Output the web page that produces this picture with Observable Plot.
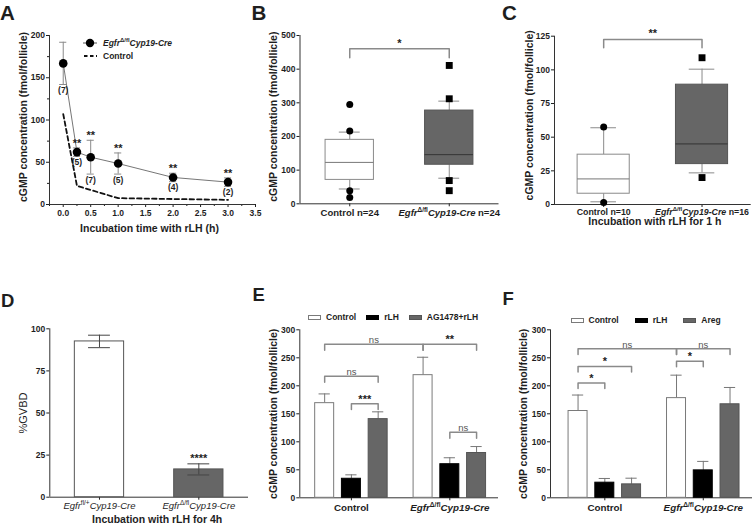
<!DOCTYPE html>
<html>
<head>
<meta charset="utf-8">
<script src="https://cdn.jsdelivr.net/npm/d3@7"></script>
<script src="https://cdn.jsdelivr.net/npm/@observablehq/plot@0.6"></script>
<style>
html,body{margin:0;padding:0;background:#fff;}
#fig{position:relative;width:752px;height:524px;overflow:hidden;background:#fff;font-family:"Liberation Sans",Arial,sans-serif;color:#1e1e1e;}
.panel{position:absolute;}
.panel svg{display:block;overflow:visible;}
.legend{position:absolute;font-weight:bold;font-size:8.5px;display:flex;align-items:center;white-space:nowrap;line-height:10px;}
.sw{display:inline-block;width:13px;height:5px;box-sizing:border-box;margin-right:5px;}
.legend sup{font-size:0.7em;line-height:0;}
.letter{position:absolute;font-weight:bold;line-height:1;}
</style>
</head>
<body>
<div id="fig"></div>
<script>
// ===================== DATA =====================
// Panel A
const aTime = [0, 0.25, 0.5, 1, 2, 3];
const aKoMean = [167, 62, 56, 48.5, 32, 26.5];
const aKoErr = [25, 5, 20, 12.5, 5, 5];
const aKoN = ["(7)", "(5)", "(7)", "(5)", "(4)", "(2)"];
const aKoSig = ["", "**", "**", "**", "**", "**"];
const aCtrlTime = [0, 0.25, 1, 2, 3];
const aCtrlMean = [107, 22, 7.5, 6.5, 5.5];
const aXTicks = [0, 0.5, 1, 1.5, 2, 2.5, 3, 3.5];
const aXMinor = [-0.25, 0.25, 0.75, 1.25, 1.75, 2.25, 2.75, 3.25];
const aYTicks = [0, 50, 100, 150, 200];
const aYMinor = [25, 75, 125, 175];
const aLegend = ["_Egfr_^Δ/fl^_Cyp19-Cre_", "Control"];
const aXTitle = "Incubation time with rLH (h)";
const cgmpTitle = "cGMP concentration (fmol/follicle)";

// Panel B
const bGroups = ["Control n=24", "_Egfr_^Δ/fl^_Cyp19-Cre_ n=24"];
const bLow = [44, 76];
const bQ1 = [71, 116];
const bMedian = [123, 146];
const bQ3 = [190, 277];
const bHigh = [213, 305];
const bOutliers = [[295, 216, 39, 19], [411, 312, 69, 39]];
const bSig = {label: "*", y: 461};
const bYTicks = [0, 100, 200, 300, 400, 500];

// Panel C
const cGroups = ["Control n=10", "_Egfr_^Δ/fl^_Cyp19-Cre_ n=16"];
const cLow = [2, 23.5];
const cQ1 = [8, 30];
const cMedian = [19, 45];
const cQ3 = [37, 89];
const cHigh = [57, 100.5];
const cOutliers = [[57.5, 1.5], [109, 20]];
const cSig = {label: "**", y: 122.5};
const cYTicks = [0, 25, 50, 75, 100, 125];
const cXTitle = "Incubation with rLH for 1 h";

// Panel D
const dGroups = ["_Egfr_^fl/+^_Cyp19-Cre_", "_Egfr_^Δ/fl^_Cyp19-Cre_"];
const dMean = [92.5, 16.5];
const dErr = [3.7, 3.3];
const dSig = ["", "****"];
const dYTicks = [0, 25, 50, 75, 100];
const dXTitle = "Incubation with rLH for 4h";
const dYTitle = "%GVBD";

// Panel E
const eGroups = ["Control", "_Egfr_^Δ/fl^_Cyp19-Cre_"];
const eTreat = ["Control", "rLH", "AG1478+rLH"];
const eMean = [[169, 34, 140.5], [219, 60, 80]];
const eErr = [[16.5, 7, 13], [32, 11.5, 11.5]];
const eBrackets = [
  {from: [0, 0], to: [1, 0], y: 274, label: "ns"},
  {from: [1, 0], to: [1, 2], y: 274, label: "**"},
  {from: [0, 0], to: [0, 2], y: 217, label: "ns"},
  {from: [0, 1], to: [0, 2], y: 168, label: "***"},
  {from: [1, 1], to: [1, 2], y: 117, label: "ns"}
];
const eYTicks = [0, 50, 100, 150, 200, 250, 300];

// Panel F
const fGroups = ["Control", "_Egfr_^Δ/fl^_Cyp19-Cre_"];
const fTreat = ["Control", "rLH", "Areg"];
const fMean = [[155, 27, 24], [178, 49, 167]];
const fErr = [[28.5, 7.5, 11], [41, 16, 30]];
const fBrackets = [
  {from: [0, 0], to: [1, 0], y: 266, label: "ns"},
  {from: [1, 0], to: [1, 2], y: 266, label: "ns"},
  {from: [0, 0], to: [0, 2], y: 234.5, label: "*"},
  {from: [0, 0], to: [0, 1], y: 205, label: "*"},
  {from: [1, 0], to: [1, 1], y: 244, label: "*"}
];
const fYTicks = [0, 50, 100, 150, 200, 250, 300];

// ===================== HELPERS =====================
const FONT = '"Liberation Sans", Arial, Helvetica, sans-serif';
const fig = document.getElementById("fig");
const baseStyle = {fontFamily: FONT, fontSize: "8.5px", fontWeight: "bold", background: "transparent", overflow: "visible", color: "#1e1e1e"};
const GRAY = "#8a8a8a";
const TFILL = ["#fff", "#000", "#666"];
const TSTROKE = ["#7a7a7a", "#000", "#555"];

function parseRich(s) {
  const segs = []; let it = false, sup = false, buf = "";
  for (const ch of s) {
    if (ch === "_" || ch === "^") {
      if (buf) segs.push({text: buf, it, sup});
      buf = "";
      if (ch === "_") it = !it; else sup = !sup;
    } else buf += ch;
  }
  if (buf) segs.push({text: buf, it, sup});
  return segs;
}
function richSvg(svg) {
  svg.querySelectorAll("text").forEach(t => {
    const s = t.textContent;
    if (!/[_^]/.test(s)) return;
    const segs = parseRich(s);
    while (t.firstChild) t.removeChild(t.firstChild);
    const fs = parseFloat(getComputedStyle(t).fontSize) || 9;
    const shift = fs * 0.38;
    let shifted = false;
    for (const seg of segs) {
      const ts = document.createElementNS("http://www.w3.org/2000/svg", "tspan");
      ts.textContent = seg.text;
      if (seg.it) ts.setAttribute("font-style", "italic");
      if (seg.sup) {
        ts.setAttribute("font-size", (fs * 0.68).toFixed(2));
        if (!shifted) { ts.setAttribute("dy", (-shift).toFixed(2)); shifted = true; }
      } else if (shifted) { ts.setAttribute("dy", shift.toFixed(2)); shifted = false; }
      t.appendChild(ts);
    }
  });
}
function richHtml(s) {
  return parseRich(s).map(g => {
    let h = g.text.replace(/&/g, "&amp;").replace(/</g, "&lt;");
    if (g.it) h = "<i>" + h + "</i>";
    if (g.sup) h = "<sup>" + h + "</sup>";
    return h;
  }).join("");
}
function place(svg, left, top) {
  const w = document.createElement("div");
  w.className = "panel";
  w.style.left = left + "px"; w.style.top = top + "px";
  w.appendChild(svg);
  fig.appendChild(w);
  richSvg(svg);
}
function letter(ch, left, top, size) {
  const d = document.createElement("div");
  d.className = "letter"; d.textContent = ch;
  d.style.left = left + "px"; d.style.top = top + "px"; d.style.fontSize = size + "px";
  fig.appendChild(d);
}
function yTitle(text, dx, dy, opts = {}) {
  return Plot.text([text], {text: d => d, frameAnchor: "left", textAnchor: "middle", lineAnchor: "middle", rotate: -90, dx, dy, fontSize: 10.5, ...opts});
}
function xTitle(text, dy, dx = 0) {
  return Plot.text([text], {text: d => d, frameAnchor: "bottom", textAnchor: "middle", lineAnchor: "middle", dy, dx, fontSize: 10.5});
}

// ===================== PANEL A =====================
{
  const ko = aTime.map((t, i) => ({t, m: aKoMean[i], e: aKoErr[i], n: aKoN[i], sig: aKoSig[i]}));
  const ctrl = aCtrlTime.map((t, i) => ({t, m: aCtrlMean[i]}));
  const cap = 0.065;
  const svg = Plot.plot({
    width: 260, height: 240, marginLeft: 49, marginRight: 5, marginTop: 35, marginBottom: 36,
    style: baseStyle,
    x: {domain: [-0.25, 3.5]}, y: {domain: [0, 200]},
    marks: [
      Plot.axisX({ticks: aXTicks, tickFormat: d3.format(".1f"), tickSize: 3, tickPadding: 2, label: null}),
      Plot.axisX({ticks: aXMinor, tickFormat: () => "", tickSize: 2, label: null}),
      Plot.axisY({ticks: aYTicks, tickSize: 3, tickPadding: 1.5, label: null}),
      Plot.axisY({ticks: aYMinor, tickFormat: () => "", tickSize: 2, label: null}),
      Plot.ruleX([-0.25], {stroke: "#333"}),
      Plot.ruleY([0], {stroke: "#333"}),
      Plot.line(ctrl, {x: "t", y: "m", stroke: "#111", strokeWidth: 1.8, strokeDasharray: "4.5,3"}),
      Plot.line(ko, {x: "t", y: "m", stroke: "#666", strokeWidth: 0.9}),
      Plot.ruleX(ko, {x: "t", y1: d => d.m - d.e, y2: d => d.m + d.e, stroke: GRAY}),
      Plot.ruleY(ko, {x1: d => d.t - cap, x2: d => d.t + cap, y: d => d.m + d.e, stroke: GRAY}),
      Plot.ruleY(ko, {x1: d => d.t - cap, x2: d => d.t + cap, y: d => d.m - d.e, stroke: GRAY}),
      Plot.dot(ko, {x: "t", y: "m", r: 4.3, fill: "#000"}),
      Plot.text(ko, {x: "t", y: d => d.m - d.e, text: "n", lineAnchor: "top", dy: 2.5, fontSize: 8.5}),
      Plot.text(ko, {x: "t", y: d => d.m + d.e, text: "sig", lineAnchor: "bottom", dy: -1, fontSize: 11}),
      xTitle(aXTitle, 24, -3),
      yTitle(cgmpTitle, -26, -3)
    ]
  });
  place(svg, 0, 0);
  const lg = document.createElement("div");
  lg.className = "legend";
  lg.style.cssText = "left:82px;top:36px;flex-direction:column;align-items:flex-start;";
  lg.innerHTML =
    `<div style="display:flex;align-items:center;height:13px"><svg width="16" height="10" style="margin-right:5px"><line x1="1" x2="15" y1="5" y2="5" stroke="#555"/><circle cx="8" cy="5" r="4.2" fill="#000"/></svg><span>${richHtml(aLegend[0])}</span></div>` +
    `<div style="display:flex;align-items:center;height:13px"><svg width="16" height="10" style="margin-right:5px"><line x1="2" x2="15" y1="5" y2="5" stroke="#111" stroke-width="1.8" stroke-dasharray="3.5,2.5"/></svg><span>${richHtml(aLegend[1])}</span></div>`;
  fig.appendChild(lg);
}

// ===================== BOX PANELS B, C =====================
function boxPanel(o) {
  const rows = o.groups.map((g, i) => ({i, x: i + 0.5, lo: o.low[i], q1: o.q1[i], med: o.med[i], q3: o.q3[i], hi: o.high[i]}));
  const outl = o.outliers.flatMap((arr, i) => arr.map(v => ({i, x: i + 0.5, v})));
  const br = [{x: 0.5, y: o.sig.y - o.drop}, {x: 0.5, y: o.sig.y}, {x: 1.5, y: o.sig.y}, {x: 1.5, y: o.sig.y - o.drop}];
  const f = o.frame;
  const marks = [
    Plot.axisY({ticks: o.yTicks, tickSize: 3, tickPadding: 1.5, label: null}),
    Plot.axisX({ticks: [0.5, 1.5], tickFormat: d => o.groups[Math.floor(d)], tickSize: 3, tickPadding: o.xPad, fontSize: o.xFont, label: null}),
    Plot.ruleX([0], {stroke: "#333"}),
    Plot.ruleY([0], {stroke: "#333"}),
    Plot.ruleX(rows, {x: "x", y1: "q3", y2: "hi", stroke: GRAY}),
    Plot.ruleX(rows, {x: "x", y1: "lo", y2: "q1", stroke: GRAY}),
    Plot.ruleY(rows, {x1: d => d.x - o.capHw, x2: d => d.x + o.capHw, y: "hi", stroke: GRAY}),
    Plot.ruleY(rows, {x1: d => d.x - o.capHw, x2: d => d.x + o.capHw, y: "lo", stroke: GRAY}),
    Plot.rect(rows, {filter: d => d.i === 0, x1: d => d.x - o.hw, x2: d => d.x + o.hw, y1: "q1", y2: "q3", fill: "#fff", stroke: GRAY}),
    Plot.rect(rows, {filter: d => d.i === 1, x1: d => d.x - o.hw, x2: d => d.x + o.hw, y1: "q1", y2: "q3", fill: "#666", stroke: "#555"}),
    Plot.ruleY(rows, {filter: d => d.i === 0, x1: d => d.x - o.hw, x2: d => d.x + o.hw, y: "med", stroke: "#777"}),
    Plot.ruleY(rows, {filter: d => d.i === 1, x1: d => d.x - o.hw, x2: d => d.x + o.hw, y: "med", stroke: "#333"}),
    Plot.dot(outl, {filter: d => d.i === 0, x: "x", y: "v", r: 3.5, fill: "#000", symbol: "circle"}),
    Plot.dot(outl, {filter: d => d.i === 1, x: "x", y: "v", r: 3.9, fill: "#000", symbol: "square"}),
    Plot.line(br, {x: "x", y: "y", stroke: GRAY}),
    Plot.text([o.sig], {x: 1, y: "y", text: "label", lineAnchor: "bottom", dy: o.sigDy, fontSize: 11}),
    yTitle(cgmpTitle, o.ytDx, o.ytDy)
  ];
  if (o.xTitle) marks.push(xTitle(o.xTitle, o.xtDy, o.xtDx || 0));
  const svg = Plot.plot({
    width: f.w, height: f.h, marginLeft: f.ml, marginRight: f.mr, marginTop: f.mt, marginBottom: f.mb,
    style: baseStyle, x: {domain: [0, 2]}, y: {domain: o.yDomain}, marks
  });
  place(svg, f.left, f.top);
}
boxPanel({groups: bGroups, low: bLow, q1: bQ1, med: bMedian, q3: bQ3, high: bHigh, outliers: bOutliers, sig: bSig, drop: 27, sigDy: -2,
  yTicks: bYTicks, yDomain: [0, 500], hw: 0.243, capHw: 0.105, ytDx: -26, ytDy: -3, xFont: 9.5, xPad: 2.5,
  frame: {left: 250, top: 0, w: 250, h: 240, ml: 49.5, mr: 1.5, mt: 35, mb: 36.7}});
boxPanel({groups: cGroups, low: cLow, q1: cQ1, med: cMedian, q3: cQ3, high: cHigh, outliers: cOutliers, sig: cSig, drop: 6, sigDy: -3,
  yTicks: cYTicks, yDomain: [0, 125], hw: 0.265, capHw: 0.13, ytDx: -25, ytDy: -5, xTitle: cXTitle, xtDy: 17.5, xtDx: 2, xFont: 8.8, xPad: 1,
  frame: {left: 500, top: 0, w: 252, h: 240, ml: 54, mr: 1.3, mt: 35.7, mb: 36}});

// ===================== PANEL D =====================
{
  const rows = dGroups.map((g, i) => ({i, x: i + 0.5, m: dMean[i], e: dErr[i], sig: dSig[i]}));
  const hw = 0.248, cap = 0.11;
  const svg = Plot.plot({
    width: 250, height: 264, marginLeft: 49.3, marginRight: 2, marginTop: 68.3, marginBottom: 27.3,
    style: baseStyle, x: {domain: [0, 2]}, y: {domain: [0, 100]},
    marks: [
      Plot.axisY({ticks: dYTicks, tickSize: 3, tickPadding: 1.5, label: null}),
      Plot.axisX({ticks: [0.5, 1.5], tickFormat: d => dGroups[Math.floor(d)], tickSize: 3, tickPadding: 2, fontSize: 9.5, fontWeight: "normal", label: null}),
      Plot.ruleX([0], {stroke: "#333"}),
      Plot.ruleY([0], {stroke: "#333"}),
      Plot.rect(rows, {filter: d => d.i === 0, x1: d => d.x - hw, x2: d => d.x + hw, y1: 0, y2: "m", fill: "#fff", stroke: "#555"}),
      Plot.rect(rows, {filter: d => d.i === 1, x1: d => d.x - hw, x2: d => d.x + hw, y1: 0, y2: "m", fill: "#666", stroke: "#555"}),
      Plot.ruleX(rows, {x: "x", y1: d => d.m - d.e, y2: d => d.m + d.e, stroke: "#444"}),
      Plot.ruleY(rows, {x1: d => d.x - cap, x2: d => d.x + cap, y: d => d.m + d.e, stroke: "#444"}),
      Plot.ruleY(rows, {x1: d => d.x - cap, x2: d => d.x + cap, y: d => d.m - d.e, stroke: "#444"}),
      Plot.text(rows, {x: "x", y: d => d.m + d.e, text: "sig", lineAnchor: "bottom", dy: -2, fontSize: 11}),
      Plot.text([dYTitle], {text: d => d, frameAnchor: "left", textAnchor: "middle", lineAnchor: "middle", rotate: -90, dx: -26.5, fontSize: 11, fontWeight: "normal"}),
      xTitle(dXTitle, 22, 8)
    ]
  });
  place(svg, 0, 260);
}

// ===================== BAR PANELS E, F =====================
const GSTEP = 3.68; // group spacing, in bar slots
function barPanel(o) {
  const slot = (g, s) => g * GSTEP + s;
  const rows = [];
  o.groups.forEach((g, gi) => o.treats.forEach((t, si) => rows.push({gi, si, x: slot(gi, si), m: o.mean[gi][si], e: o.err[gi][si]})));
  const pts = [], labs = [];
  o.brackets.forEach((b, k) => {
    const x1 = slot(...b.from), x2 = slot(...b.to);
    pts.push({k, x: x1, y: b.y - o.drop}, {k, x: x1, y: b.y}, {k, x: x2, y: b.y}, {k, x: x2, y: b.y - o.drop});
    labs.push({x: (x1 + x2) / 2, y: b.y, label: b.label, ns: b.label === "ns"});
  });
  const hw = 0.355, cap = 0.21;
  const f = o.frame;
  const marks = [
    Plot.axisY({ticks: o.yTicks, tickSize: 3, tickPadding: 1.5, label: null}),
    Plot.axisX({ticks: o.groups.map((g, gi) => slot(gi, 1)), tickFormat: d => o.groups[Math.round((d - 1) / GSTEP)], tickSize: 3, tickPadding: 3, fontSize: 9.8, label: null}),
    Plot.ruleX([o.xDomain[0]], {stroke: "#333"}),
    Plot.ruleY([0], {stroke: "#333"}),
    Plot.ruleX(rows, {x: "x", y1: "m", y2: d => d.m + d.e, stroke: "#777"}),
    Plot.ruleY(rows, {x1: d => d.x - cap, x2: d => d.x + cap, y: d => d.m + d.e, stroke: "#777"})
  ];
  o.treats.forEach((t, si) => marks.push(
    Plot.rect(rows, {filter: d => d.si === si, x1: d => d.x - hw, x2: d => d.x + hw, y1: 0, y2: "m", fill: TFILL[si], stroke: TSTROKE[si]})
  ));
  marks.push(
    Plot.line(pts, {x: "x", y: "y", z: "k", stroke: GRAY}),
    Plot.text(labs, {filter: d => d.ns, x: "x", y: "y", text: "label", lineAnchor: "bottom", dy: -1, fontSize: 9.5, fontWeight: "normal", fill: "#555"}),
    Plot.text(labs, {filter: d => !d.ns, x: "x", y: "y", text: "label", lineAnchor: "bottom", dy: -1, fontSize: 11, fill: "#222"}),
    yTitle(cgmpTitle, o.ytDx, 0)
  );
  const svg = Plot.plot({
    width: f.w, height: f.h, marginLeft: f.ml, marginRight: f.mr, marginTop: f.mt, marginBottom: f.mb,
    style: baseStyle, x: {domain: o.xDomain}, y: {domain: [0, 300]}, marks
  });
  place(svg, f.left, f.top);
  const lg = document.createElement("div");
  lg.className = "legend";
  lg.style.left = o.legend.left + "px"; lg.style.top = o.legend.top + "px";
  lg.innerHTML = o.treats.map((t, si) =>
    `<span class="sw" style="background:${TFILL[si]};border:1px solid ${TSTROKE[si]}"></span><span style="margin-right:${o.legend.gap}px">${richHtml(t)}</span>`).join("");
  fig.appendChild(lg);
}
barPanel({groups: eGroups, treats: eTreat, mean: eMean, err: eErr, brackets: eBrackets, drop: 10.5, yTicks: eYTicks,
  xDomain: [-0.93, 6.5], ytDx: -26, legend: {left: 308, top: 312, gap: 10},
  frame: {left: 250, top: 260, w: 250, h: 264, ml: 49.3, mr: 2, mt: 69.3, mb: 26.7}});
barPanel({groups: fGroups, treats: fTreat, mean: fMean, err: fErr, brackets: fBrackets, drop: 10, yTicks: fYTicks,
  xDomain: [-1.03, 6.52], ytDx: -26.7, legend: {left: 570.5, top: 315, gap: 16},
  frame: {left: 500, top: 260, w: 252, h: 264, ml: 50, mr: 0, mt: 69.3, mb: 26.7}});

// ===================== PANEL LETTERS =====================
letter("A", 0, 3, 20.5);
letter("B", 251.5, 3, 20.5);
letter("C", 502, 3, 20.5);
letter("D", 1, 292, 18.5);
letter("E", 252.5, 285.5, 18.5);
letter("F", 502.5, 290, 18.5);
</script>
</body>
</html>
